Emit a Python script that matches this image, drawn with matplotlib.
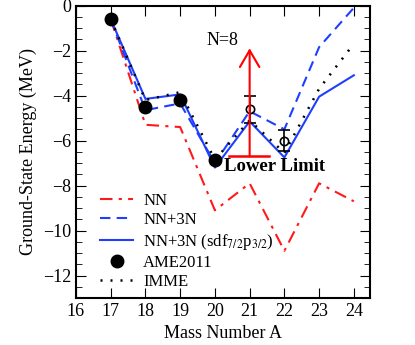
import numpy as np
import matplotlib
matplotlib.use('Agg')
import matplotlib.pyplot as plt
from matplotlib.ticker import MultipleLocator

plt.rcParams['font.family'] = ['Liberation Serif', 'DejaVu Serif']
plt.rcParams['mathtext.fontset'] = 'stix'

# data
mass = [17, 18, 19, 20, 21, 22, 23, 24]
nn = [-0.6, -5.3, -5.4, -9.1, -7.9, -10.9, -7.9, -8.7]
nn3n = [-0.6, -4.65, -4.35, -7.0, -4.7, -5.5, -1.85, -0.1]
nn3n_sdf = [-0.6, -4.15, -3.95, -7.2, -5.15, -6.75, -4.05, -3.1]
imme = [-0.6, -4.2, -3.85, -6.85, -5.1, -6.55, -3.7, -1.7]

ame_mass = [17, 18, 19, 20]
ame = [-0.6, -4.5, -4.2, -6.85]

exp_mass = [21, 22]
exp_val = [-4.6, -6.0]
exp_err = [0.6, 0.45]

limit_mass = 21
limit_low = -6.7
limit_top = -1.9

blue = '#1f3fff'
red = '#ff1a1a'

fig = plt.figure(figsize=(4.15, 3.45), dpi=100)
ax = fig.add_axes([0.183, 0.136, 0.709, 0.848])

ax.plot(mass, nn, color=red, lw=1.5, ls=(0, (6, 3, 1.5, 3)), label='NN')
ax.plot(mass, nn3n, color=blue, lw=1.5, ls=(0, (5, 3)), label='NN+3N')
ax.plot(mass, nn3n_sdf, color=blue, lw=1.5, label=r'NN+3N (sdf$_{7/2}$p$_{3/2}$)')
ax.plot(ame_mass, ame, 'o', color='black', ms=9, label='AME2011')
ax.plot(mass, imme, color='black', lw=1.8, ls=(0, (0.8, 3.2)), label='IMME')

ax.errorbar(exp_mass, exp_val, yerr=exp_err, fmt='o', mfc='none', mec='black',
            ecolor='black', ms=6, capsize=4, lw=1.2, mew=1.2)

# lower limit arrow
ax.plot([limit_mass - 0.6, limit_mass + 0.57], [limit_low, limit_low], color='red', lw=1.8)
ax.annotate('', xy=(limit_mass, limit_top), xytext=(limit_mass, limit_low),
            arrowprops=dict(arrowstyle='->,head_length=1.2,head_width=0.7',
                            color='red', lw=1.5, shrinkA=0, shrinkB=0))

ax.text(19.75, -1.75, 'N=8', fontsize=13)
ax.text(20.25, -7.15, 'Lower Limit', fontsize=13.5, fontweight='bold', va='center')

ax.set_xlim(16, 24.47)
ax.set_ylim(-13, 0)
ax.xaxis.set_major_locator(MultipleLocator(1))
ax.yaxis.set_major_locator(MultipleLocator(2))
ax.yaxis.set_minor_locator(MultipleLocator(0.5))
ax.tick_params(which='both', direction='in', top=True, right=True, labelsize=13)
ax.tick_params(which='major', length=7)
ax.tick_params(which='minor', length=4)
for s in ax.spines.values():
    s.set_linewidth(1.5)

ax.set_xlabel('Mass Number A', fontsize=13)
ax.set_ylabel('Ground-State Energy (MeV)', fontsize=13)

ax.legend(loc='lower left', bbox_to_anchor=(0.025, -0.03), frameon=False, fontsize=12,
          handlelength=2.0, labelspacing=0.2, handletextpad=0.6, borderaxespad=0.6)

fig.savefig('out.png', dpi=100)
